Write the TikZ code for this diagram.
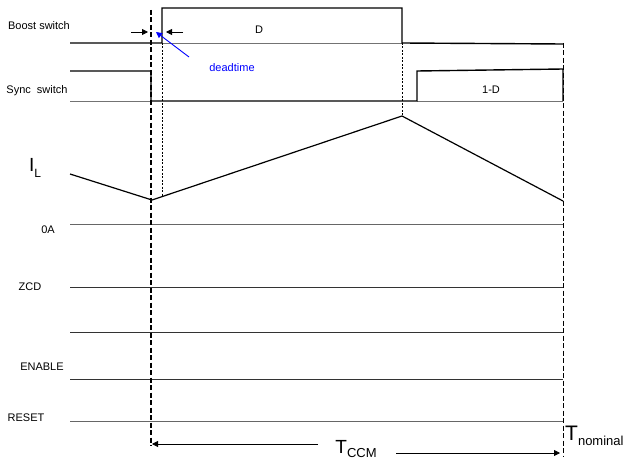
\documentclass[tikz,border=0pt]{standalone}
\usepackage{fontspec}
\setmainfont{Liberation Sans}
\usetikzlibrary{arrows.meta}

\tikzset{
  sig/.style={line width=1.4pt},
  base/.style={line width=0.6pt, black!55},
  ref/.style={line width=0.7pt, black!80},
  lbl/.style={font=\fontsize{11}{13}\selectfont, inner sep=0pt},
  edgemark/.style={line width=1.2pt, dash pattern=on 5pt off 2.5pt},
  thinmark/.style={line width=0.6pt, dash pattern=on 2pt off 1.5pt},
  dim/.style={line width=0.8pt, -{Triangle[length=6pt,width=6pt]}}
}

\begin{document}
\begin{tikzpicture}[x=1pt, y=-1pt]
  \useasboundingbox (0,0) rectangle (624,460);
  \draw[base] (162,43) -- (402,43);
  \draw[base] (70,101) -- (151,101);
  \draw[base] (417,101) -- (563,101);
  \draw[sig] (70,43) -- (162,43) -- (162,8) -- (402,8) -- (402,43) -- (563,44);
  \draw[sig] (70,71) -- (151,71) -- (151,101) -- (417,101) -- (417,71) -- (563,69) -- (563,101);
  \draw[sig, line width=1.2pt] (70,174) -- (152,200) -- (402,116) -- (563,201);
  \draw[ref, black!60] (70,224) -- (563,224);
  \draw[ref] (70,287) -- (563,287);
  \draw[ref] (70,332) -- (563,332);
  \draw[ref] (70,379) -- (563,379);
  \draw[ref, black!60] (70,421) -- (563,421);
  \draw[edgemark] (151,10) -- (151,446);
  \draw[edgemark, line width=0.9pt] (563,43) -- (563,456);
  \draw[thinmark] (162,43) -- (162,197);
  \draw[thinmark] (402,43) -- (402,116);
  \node[lbl] (boost) at (39,26) {Boost switch};
  \node[lbl] (sync) at (37,91) {Sync\ \ switch};
  \node[lbl] (duty) at (259,30) {D};
  \node[lbl] (invduty) at (491,90) {1-D};
  \node[lbl, blue] (dead) at (232,68) {deadtime};
  \node[lbl, font=\fontsize{19}{20}\selectfont] (il) at (35,168)
    {I\raisebox{-0.6ex}{\fontsize{12}{13}\selectfont L}};
  \node[lbl] (zero) at (48,230) {0A};
  \node[lbl] (zcd) at (30,287) {ZCD};
  \node[lbl] (enable) at (42,367) {ENABLE};
  \node[lbl] (reset) at (26,418) {RESET};
  \node[lbl, font=\fontsize{19}{20}\selectfont] (tccm) at (356,449)
    {T\raisebox{-0.45ex}{\fontsize{13}{14}\selectfont CCM}};
  \node[lbl, font=\fontsize{21}{22}\selectfont, anchor=west] (tnom) at (565,436)
    {T\raisebox{-0.5ex}{\fontsize{13}{14}\selectfont nominal}};
  \coordinate (deadtail) at (189,57);
  \coordinate (deadtip) at (156,32);
  \draw[blue, line width=0.9pt, -{Triangle[length=6pt,width=6pt]}] (deadtail) -- (deadtip);
  \draw[dim] (131,32) -- (148,32);
  \draw[dim] (183,32) -- (166,32);
  \coordinate (ccmleft) at (152,444);
  \coordinate (ccmright) at (560,453);
  \draw[dim] (318,444) -- (ccmleft);
  \draw[dim] (396,453) -- (ccmright);
\end{tikzpicture}
\end{document}
